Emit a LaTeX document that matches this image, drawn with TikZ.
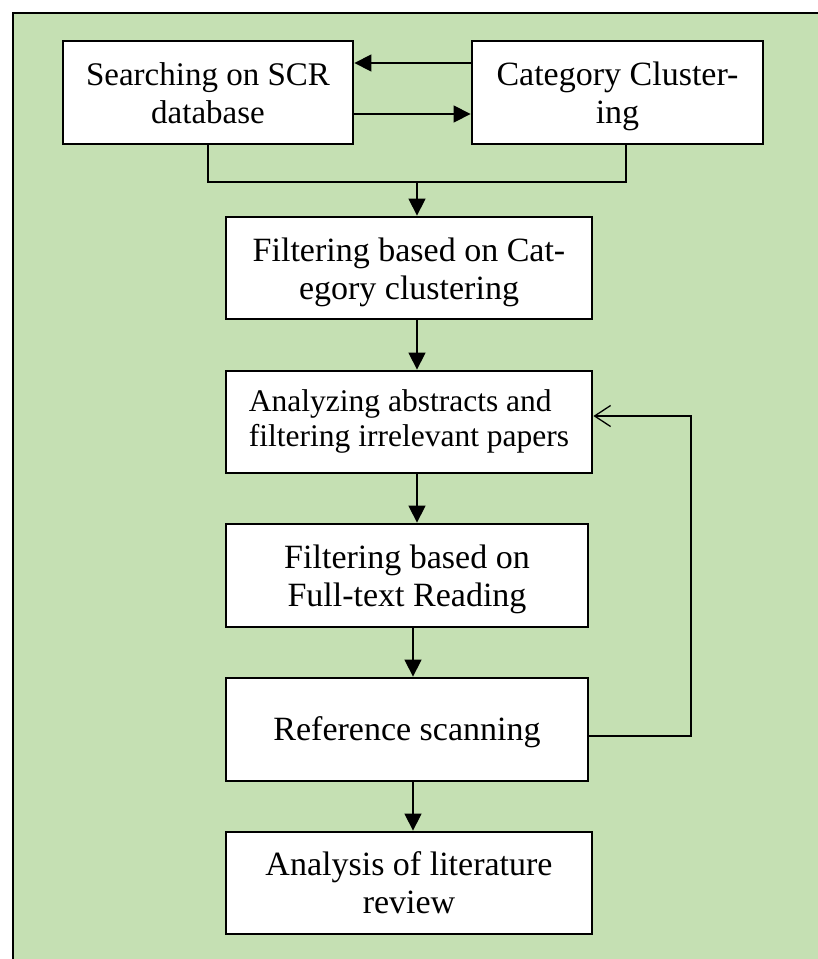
\documentclass[tikz,border=0pt]{standalone}
\usepackage{fontspec}
\setmainfont{Liberation Serif}
\usetikzlibrary{arrows.meta}
\definecolor{bggreen}{RGB}{197,224,179}
\newcommand\boxtext[3]{\raisebox{#1}[\height][\depth]{\begin{tabular}{@{}#2@{}}#3\end{tabular}}}
\tikzset{
  stepbox/.style={draw=black, line width=2.8pt, fill=white, inner sep=0pt,
    font=\fontsize{34}{38}\selectfont},
  conn/.style={draw=black, line width=1.3pt},
  fillarrow/.style={conn, -{Triangle[length=17pt,width=17pt]}},
  openarrow/.style={conn, -{Straight Barb[length=16pt,width=21pt,line width=1.3pt]}},
}
\begin{document}
\begin{tikzpicture}[x=1pt,y=-1pt]
\useasboundingbox (0,0) rectangle (818,959);
% background frame
\fill[bggreen] (12.7,12.7) rectangle (818,959);
\draw[line width=2pt] (12.7,959) -- (12.7,12.7) -- (818,12.7);
% boxes
\node[stepbox, minimum width=290pt, minimum height=103pt, font=\fontsize{33}{38}\selectfont] (search) at (208,92.5) {\boxtext{-4.5pt}{c}{Searching on SCR\\database}};
\node[stepbox, minimum width=291pt, minimum height=103pt] (cat) at (617.5,92.5) {\boxtext{-4.5pt}{c}{Category Cluster-\\ing}};
\node[stepbox, minimum width=366pt, minimum height=102pt] (filt1) at (409,268) {\boxtext{-5pt}{c}{Filtering based on Cat-\\egory clustering}};
\node[stepbox, minimum width=366pt, minimum height=102pt, font=\fontsize{31.5}{35}\selectfont] (abs) at (409,422) {\boxtext{0pt}{l}{Analyzing abstracts and\\filtering irrelevant papers}};
\node[stepbox, minimum width=362pt, minimum height=103pt] (full) at (407,575.5) {\boxtext{-4.5pt}{c}{Filtering based on\\Full-text Reading}};
\node[stepbox, minimum width=362pt, minimum height=103pt] (ref) at (407,729.5) {\boxtext{-3pt}{c}{Reference scanning}};
\node[stepbox, minimum width=366pt, minimum height=102pt] (ana) at (409,883) {\boxtext{-3.5pt}{c}{Analysis of literature\\review}};
% coordinates
\coordinate (merge) at (417,182);
\coordinate (loopR1) at (691,736);
\coordinate (loopR2) at (691,416);
% connectors
\draw[fillarrow] (cat.west |- 0,63) -- (search.east |- 0,63);
\draw[fillarrow] (search.east |- 0,114) -- (cat.west |- 0,114);
\draw[conn] (search.south) -- (208,182) -- (626,182) -- (cat.south -| 626,0);
\draw[fillarrow] (merge) -- (filt1.north -| merge);
\draw[fillarrow] (filt1.south -| 417,0) -- (abs.north -| 417,0);
\draw[fillarrow] (abs.south -| 417,0) -- (full.north -| 417,0);
\draw[fillarrow] (full.south -| 413,0) -- (ref.north -| 413,0);
\draw[fillarrow] (ref.south -| 413,0) -- (ana.north -| 413,0);
\draw[openarrow] (ref.east |- loopR1) -- (loopR1) -- (loopR2) -- (abs.east |- loopR2);
\end{tikzpicture}
\end{document}
